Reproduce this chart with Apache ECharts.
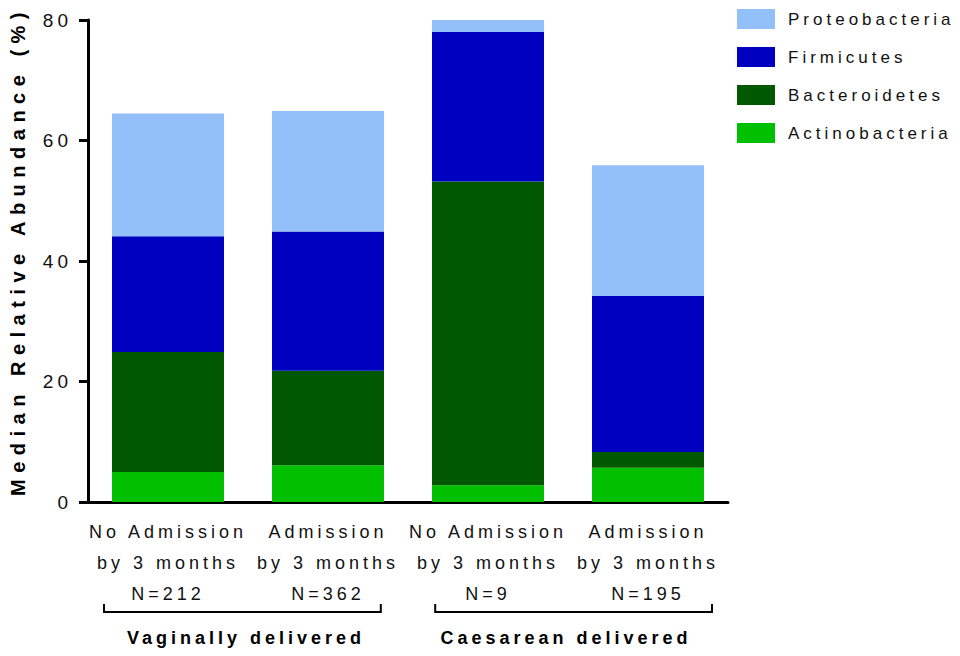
<!DOCTYPE html>
<html>
<head>
<meta charset="utf-8">
<script src="https://cdn.jsdelivr.net/npm/echarts@6/dist/echarts.min.js"></script>
<style>
  html, body { margin: 0; padding: 0; background: #fff; }
  #main { width: 960px; height: 656px; letter-spacing: 4px; }
  /* the rotated y axis title is spaced wider */
  #main text[transform*=",-1,1,"] { letter-spacing: 6.5px; }
</style>
</head>
<body>
<div id="main"></div>
<script>
// groups of infants
const categories = [
  'No Admission\nby 3 months\nN=212',
  'Admission\nby 3 months\nN=362',
  'No Admission\nby 3 months\nN=9',
  'Admission\nby 3 months\nN=195'
]
const groups = ['Vaginally delivered', 'Caesarean delivered']

// median relative abundance (%) per phylum, stacked bottom to top
const actinobacteria = [5.0, 6.1, 2.8, 5.7]
const bacteroidetes = [19.9, 15.7, 50.4, 2.6]
const firmicutes = [19.2, 23.1, 24.8, 25.9]
const proteobacteria = [20.4, 20.0, 2.2, 21.7]

const yTicks = [0, 20, 40, 60, 80]

const chartDom = document.getElementById('main')
const myChart = echarts.init(chartDom, null, { renderer: 'svg' })

const font = 'Liberation Sans, Arial, sans-serif'

function bar (name, data, color) {
  return {
    name: name,
    type: 'bar',
    stack: 'total',
    barWidth: '70%',
    data: data,
    itemStyle: { color: color },
    emphasis: { disabled: true }
  }
}

const option = {
  backgroundColor: '#fff',
  animation: false,
  textStyle: { fontFamily: font },
  grid: { left: 88, right: 232, top: 20, bottom: 154 },
  legend: {
    orient: 'vertical',
    left: 732,
    top: 4,
    itemWidth: 38,
    itemHeight: 20,
    itemGap: 18,
    icon: 'rect',
    data: ['Proteobacteria', 'Firmicutes', 'Bacteroidetes', 'Actinobacteria'],
    textStyle: { fontSize: 17, color: '#111', padding: [0, 0, 0, 8] }
  },
  xAxis: {
    type: 'category',
    data: categories,
    axisLine: { lineStyle: { color: '#000', width: 3 } },
    axisTick: { alignWithLabel: true, length: 8, lineStyle: { color: '#000', width: 3 } },
    axisLabel: { color: '#111', fontSize: 18, lineHeight: 31, margin: 14, interval: 0 }
  },
  yAxis: {
    type: 'value',
    min: yTicks[0],
    max: yTicks[yTicks.length - 1],
    interval: 20,
    name: 'Median Relative Abundance (%)',
    nameLocation: 'middle',
    nameGap: 60,
    nameTextStyle: { fontSize: 20, fontWeight: 'bold', color: '#000', padding: [0, 0, 0, 20] },
    axisLine: { show: true, lineStyle: { color: '#000', width: 3 } },
    axisTick: { show: true, length: 9, lineStyle: { color: '#000', width: 3 } },
    axisLabel: { color: '#111', fontSize: 19, margin: 16 },
    splitLine: { show: false }
  },
  series: [
    bar('Actinobacteria', actinobacteria, '#00c000'),
    bar('Bacteroidetes', bacteroidetes, '#005800'),
    bar('Firmicutes', firmicutes, '#0000c0'),
    bar('Proteobacteria', proteobacteria, '#93c0f8')
  ]
}
myChart.setOption(option)

// group brackets below the category labels, placed from the axis scale
const c0 = myChart.convertToPixel({ xAxisIndex: 0 }, 0)
const c1 = myChart.convertToPixel({ xAxisIndex: 0 }, 1)
const band = c1 - c0
const y0 = myChart.convertToPixel({ yAxisIndex: 0 }, 0)
const lineY = y0 + 110
const graphics = []
groups.forEach(function (g, i) {
  const left = myChart.convertToPixel({ xAxisIndex: 0 }, i * 2)
  const right = myChart.convertToPixel({ xAxisIndex: 0 }, i * 2 + 1)
  const mid = (left + right) / 2
  // outer ends reach a bit further than the inner ones
  const x1 = i === 0 ? mid - band * 0.9 : mid - band * 0.83
  const x2 = i === 0 ? mid + band * 0.83 : mid + band * 0.9
  graphics.push({
    type: 'polyline',
    shape: { points: [[x1, lineY - 8], [x1, lineY], [x2, lineY], [x2, lineY - 8]] },
    style: { stroke: '#000', lineWidth: 2, fill: null }
  })
  graphics.push({
    type: 'text',
    x: mid - 2,
    y: lineY + 26,
    style: { text: g, fontSize: 18, fontWeight: 'bold', fontFamily: font, fill: '#000', align: 'center', verticalAlign: 'middle' }
  })
})
myChart.setOption({ graphic: graphics })
</script>
</body>
</html>
